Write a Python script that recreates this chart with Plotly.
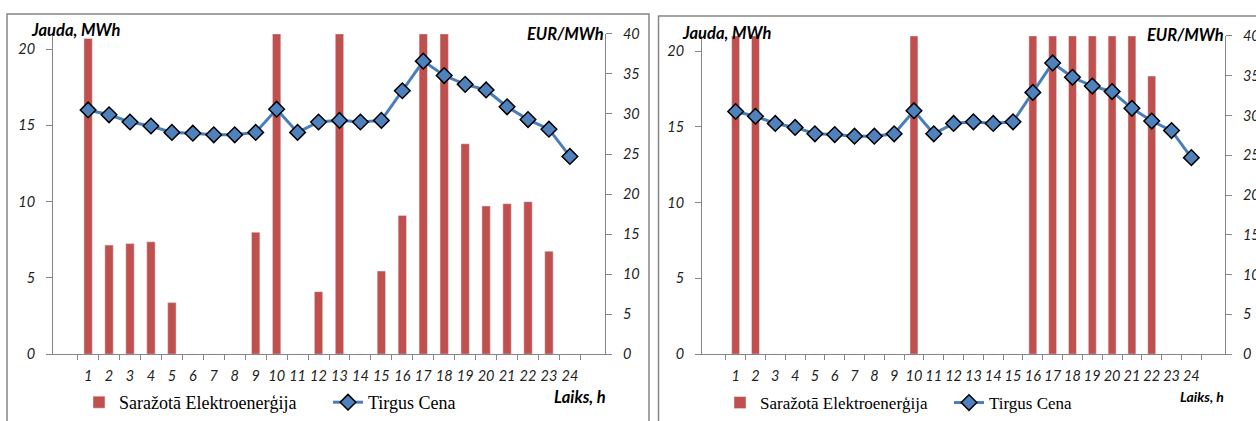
import plotly.graph_objects as go

W, H = 1256, 421

hours = [str(h) for h in range(1, 25)]

# Market price, EUR/MWh (same in both charts)
price = [30.5, 29.9, 29.0, 28.5, 27.7, 27.6, 27.4, 27.4, 27.7, 30.6, 27.7, 29.0,
         29.2, 29.0, 29.2, 32.9, 36.6, 34.8, 33.7, 33.0, 30.9, 29.3, 28.1, 24.7]

# Produced electricity, MWh
energy_left = [20.7, 7.15, 7.25, 7.37, 3.38, 0, 0, 0, 8.0, 21, 0, 4.1,
               21, 0, 5.45, 9.1, 21, 21, 13.8, 9.72, 9.87, 10.0, 6.75, 0]
energy_right = [21, 21, 0, 0, 0, 0, 0, 0, 0, 21, 0, 0,
                0, 0, 0, 21, 21, 21, 21, 21, 21, 18.35, 0, 0]

bar_name = "Saražotā Elektroenerģija"
line_name = "Tirgus Cena"

BAR_COLOR = "#C0504D"
LINE_COLOR = "#4A7EBB"
AXIS_COLOR = "#868686"
TICK_FONT = dict(family="Lato", size=14.5, color="#222222", style="italic")


def px(x):
    return x / W


def py(y):
    return (H - y) / H


fig = go.Figure()

# Left chart
fig.add_trace(go.Bar(x=hours, y=energy_left, name=bar_name, marker_color=BAR_COLOR,
                     width=0.4, xaxis="x", yaxis="y", legend="legend"))
fig.add_trace(go.Scatter(x=hours, y=price, name=line_name, mode="lines+markers",
                         line=dict(color=LINE_COLOR, width=3),
                         marker=dict(symbol="diamond", size=12, color="#4F81BD",
                                     line=dict(color="black", width=1.5)),
                         xaxis="x", yaxis="y2", legend="legend"))
# Right chart
fig.add_trace(go.Bar(x=hours, y=energy_right, name=bar_name, marker_color=BAR_COLOR,
                     width=0.4, xaxis="x2", yaxis="y3", legend="legend2"))
fig.add_trace(go.Scatter(x=hours, y=price, name=line_name, mode="lines+markers",
                         line=dict(color=LINE_COLOR, width=3),
                         marker=dict(symbol="diamond", size=12, color="#4F81BD",
                                     line=dict(color="black", width=1.5)),
                         xaxis="x2", yaxis="y4", legend="legend2"))

xcommon = dict(type="category", tickson="boundaries", ticks="outside", ticklen=5,
               tickcolor=AXIS_COLOR, showline=True, linecolor=AXIS_COLOR, linewidth=1,
               showgrid=False, zeroline=False, tickfont=TICK_FONT, automargin=False,
               ticklabelstandoff=8, tickangle=0)
ycommon = dict(ticks="outside", ticklen=6, tickcolor=AXIS_COLOR, showline=True,
               linecolor=AXIS_COLOR, linewidth=1, showgrid=False, zeroline=False,
               tickfont=TICK_FONT, automargin=False, ticklabelstandoff=8)

fig.update_layout(
    width=W, height=H,
    margin=dict(l=0, r=0, t=0, b=0),
    paper_bgcolor="white", plot_bgcolor="rgba(0,0,0,0)",
    barmode="overlay",
    xaxis=dict(domain=[px(53), px(605)], anchor="y", **xcommon),
    yaxis=dict(domain=[py(355), py(34)], anchor="x", range=[0, 21],
               tickvals=[0, 5, 10, 15, 20], **ycommon),
    yaxis2=dict(overlaying="y", side="right", anchor="x", range=[0, 40],
                tickvals=[0, 5, 10, 15, 20, 25, 30, 35, 40], **ycommon),
    xaxis2=dict(domain=[px(702), px(1225)], anchor="y3", **xcommon),
    yaxis3=dict(domain=[py(355), py(36)], anchor="x2", range=[0, 21],
                tickvals=[0, 5, 10, 15, 20], **ycommon),
    yaxis4=dict(overlaying="y3", side="right", anchor="x2", range=[0, 40],
                tickvals=[0, 5, 10, 15, 20, 25, 30, 35, 40], **ycommon),
    legend=dict(orientation="h", x=px(79), y=py(403), xanchor="left", yanchor="middle",
                font=dict(family="Liberation Serif", size=18, color="black"),
                bgcolor="rgba(0,0,0,0)", entrywidth=204, itemwidth=30),
    legend2=dict(orientation="h", x=px(720), y=py(403), xanchor="left", yanchor="middle",
                 font=dict(family="Liberation Serif", size=17, color="black"),
                 bgcolor="rgba(0,0,0,0)", entrywidth=184, itemwidth=30),
    showlegend=True,
)

fig.add_shape(type="rect", xref="paper", yref="paper", x0=px(7), x1=px(649),
              y0=-0.1, y1=py(14), line=dict(color=AXIS_COLOR, width=1.5),
              fillcolor="rgba(0,0,0,0)", layer="below")
fig.add_shape(type="rect", xref="paper", yref="paper", x0=px(658.5), x1=1.1,
              y0=-0.1, y1=py(16), line=dict(color=AXIS_COLOR, width=1.5),
              fillcolor="rgba(0,0,0,0)", layer="below")

TITLE_FONT = dict(family="Lato", size=16.5, color="black", weight="bold", style="italic")


def ann(text, x, y, xanchor, size=16.5):
    f = dict(TITLE_FONT)
    f["size"] = size
    fig.add_annotation(text=text, xref="paper", yref="paper", x=px(x), y=py(y),
                       xanchor=xanchor, yanchor="middle", showarrow=False, font=f)


ann("Jauda, MWh", 29, 30, "left")
ann("EUR/MWh", 606, 34, "right")
ann("Laiks, h", 608, 398, "right")
ann("Jauda, MWh", 680, 33, "left")
ann("EUR/MWh", 1226, 35, "right")
ann("Laiks, h", 1226, 397, "right", size=14)

fig.write_html("out.html")
